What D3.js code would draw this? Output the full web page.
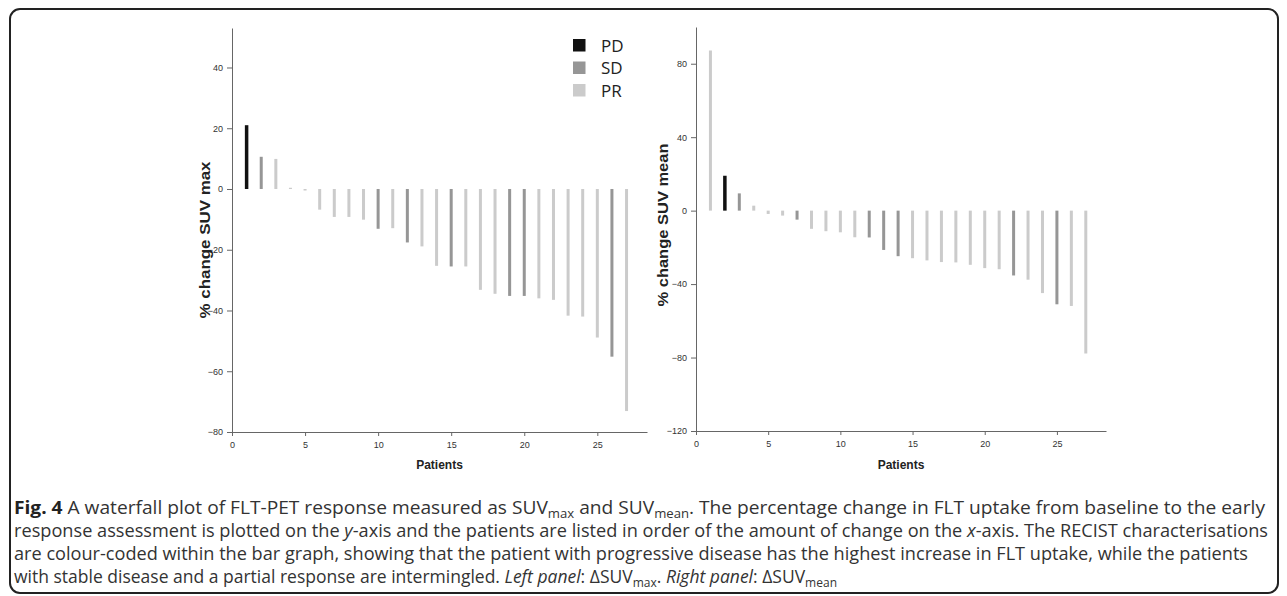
<!DOCTYPE html>
<html>
<head>
<meta charset="utf-8">
<script src="https://cdn.jsdelivr.net/npm/d3@7"></script>
<style>
  body { margin: 0; background: #fff; }
  .tick text { font-family: "Liberation Sans", Arial, sans-serif; font-size: 9px; fill: #333; }
  .axis path, .axis line { stroke: #666; }
</style>
</head>
<body>
<div id="chart"></div>
<script>
// patients are ranked 1..27 in each panel
const patients = d3.range(1, 28);

// left panel: % change SUV max
const suvMax = [21, 10.6, 9.9, 0.4, -0.5, -6.8, -9.2, -9.2, -10.1, -13.1, -12.9, -17.6, -18.9, -25.3,
  -25.5, -25.5, -33.2, -34.5, -35.2, -35.2, -36.0, -36.5, -41.7, -42.0, -48.9, -55.2, -73.1];
const suvMaxResp = ['PD', 'SD', 'PR', 'PR', 'PR', 'PR', 'PR', 'PR', 'PR', 'SD', 'PR', 'SD', 'PR', 'PR',
  'SD', 'PR', 'PR', 'PR', 'SD', 'SD', 'PR', 'PR', 'PR', 'PR', 'PR', 'SD', 'PR'];

// right panel: % change SUV mean
const suvMean = [87.2, 19.0, 9.4, 2.7, -1.8, -2.7, -4.9, -9.9, -11.2, -11.8, -14.5, -14.6, -21.4, -24.8,
  -25.9, -27.1, -28.0, -28.2, -29.5, -31.3, -31.9, -35.3, -37.6, -44.9, -51.0, -51.9, -77.8];
const suvMeanResp = ['PR', 'PD', 'SD', 'PR', 'PR', 'PR', 'SD', 'PR', 'PR', 'PR', 'PR', 'SD', 'SD', 'SD',
  'PR', 'PR', 'PR', 'PR', 'PR', 'PR', 'PR', 'SD', 'PR', 'PR', 'SD', 'PR', 'PR'];

const xTicks = [0, 5, 10, 15, 20, 25];
const yTicksMax = [-80, -60, -40, -20, 0, 20, 40];
const yTicksMean = [-120, -80, -40, 0, 40, 80];

const categories = ['PD', 'SD', 'PR'];
const color = d3.scaleOrdinal().domain(categories).range(['#111111', '#969696', '#cbcbcb']);

const svg = d3.select("#chart")
    .append("svg")
    .attr("width", 1287)
    .attr("height", 596);

// figure frame
svg.append("rect")
    .attr("x", 10).attr("y", 9)
    .attr("width", 1268).attr("height", 584)
    .attr("rx", 10)
    .attr("fill", "none")
    .attr("stroke", "#222")
    .attr("stroke-width", 2);

function panel(values, resp, x, y, yTicks, yLabel, labelPos, labelLen) {
    let g = svg.append("g");

    g.selectAll("rect.bar")
        .data(values)
        .enter()
        .append("rect")
        .attr("class", "bar")
        .attr("x", function (d, i) { return x(patients[i]) - (resp[i] == 'PD' ? 1.75 : 1.5); })
        .attr("width", function (d, i) { return resp[i] == 'PD' ? 3.5 : 3; })
        .attr("y", function (d) { return y(Math.max(0, d)); })
        .attr("height", function (d) { return Math.abs(y(d) - y(0)); })
        .attr("fill", function (d, i) { return color(resp[i]); });

    g.append("g")
        .attr("class", "axis")
        .attr("transform", `translate(0, ${y.range()[0]})`)
        .call(d3.axisBottom(x).tickValues(xTicks).tickSize(4).tickSizeOuter(0).tickPadding(6));

    g.append("g")
        .attr("class", "axis")
        .attr("transform", `translate(${x.range()[0]}, 0)`)
        .call(d3.axisLeft(y).tickValues(yTicks).tickSize(5).tickSizeOuter(0).tickPadding(4));

    g.append("text")
        .attr("transform", `translate(${(x.range()[0] + x.range()[1]) / 2}, 469)`)
        .style("text-anchor", "middle")
        .style("font-family", "Liberation Sans, Arial, sans-serif")
        .style("font-weight", "bold")
        .style("font-size", 12)
        .attr("fill", "#222")
        .text("Patients");

    g.append("text")
        .attr("transform", `translate(${labelPos[0]}, ${labelPos[1]}) rotate(-90)`)
        .attr("dy", "0.35em")
        .style("text-anchor", "middle")
        .style("font-family", "Liberation Sans, Arial, sans-serif")
        .style("font-weight", "bold")
        .style("font-size", 14)
        .attr("textLength", labelLen)
        .attr("lengthAdjust", "spacingAndGlyphs")
        .attr("fill", "#222")
        .text(yLabel);
}

const xL = d3.scaleLinear().domain([0, 28.4]).range([232, 647]);
const yL = d3.scaleLinear().domain([-80, 53]).range([432, 28]);
panel(suvMax, suvMaxResp, xL, yL, yTicksMax, "% change SUV max", [205, 240], 157);

const xR = d3.scaleLinear().domain([0, 28.4]).range([696, 1106]);
const yR = d3.scaleLinear().domain([-120, 100]).range([431, 27]);
panel(suvMean, suvMeanResp, xR, yR, yTicksMean, "% change SUV mean", [663, 225], 163);

// legend
let legend = svg.append("g").attr("transform", "translate(573, 39)");
legend.selectAll("rect")
    .data(categories)
    .enter()
    .append("rect")
    .attr("x", 0)
    .attr("y", function (d, i) { return i * 22.5; })
    .attr("width", 12.5)
    .attr("height", 12.5)
    .attr("fill", function (d) { return color(d); });
legend.selectAll("text")
    .data(categories)
    .enter()
    .append("text")
    .attr("x", 28)
    .attr("y", function (d, i) { return i * 22.5 + 6.5; })
    .attr("dy", "0.36em")
    .style("font-family", "Open Sans, sans-serif")
    .style("font-size", 17)
    .attr("fill", "#222")
    .text(function (d) { return d; });

// caption
const captionLines = [
    [["b", "Fig. 4"], ["", " A waterfall plot of FLT-PET response measured as SUV"], ["sub", "max"], ["", " and SUV"], ["sub", "mean"],
     ["", ". The percentage change in FLT uptake from baseline to the early"]],
    [["", "response assessment is plotted on the "], ["i", "y"], ["", "-axis and the patients are listed in order of the amount of change on the "],
     ["i", "x"], ["", "-axis. The RECIST characterisations"]],
    [["", "are colour-coded within the bar graph, showing that the patient with progressive disease has the highest increase in FLT uptake, while the patients"]],
    [["", "with stable disease and a partial response are intermingled. "], ["i", "Left panel"], ["", ": ΔSUV"], ["sub", "max"], ["", ". "],
     ["i", "Right panel"], ["", ": ΔSUV"], ["sub", "mean"]]
];
// last line keeps its natural width
const captionWidths = [1251, 1254, 1234, null];

captionLines.forEach(function (line, li) {
    let t = svg.append("text")
        .attr("x", 14)
        .attr("y", 513.5 + li * 23.2)
        .style("font-family", "Open Sans, sans-serif")
        .style("font-size", 17.5)
        .attr("fill", "#333");
    if (captionWidths[li]) {
        t.attr("textLength", captionWidths[li]).attr("lengthAdjust", "spacingAndGlyphs");
    }
    let afterSub = false;
    line.forEach(function (part) {
        let s = t.append("tspan").text(part[1]);
        if (part[0] == "b") s.style("font-weight", "bold").attr("fill", "#222");
        if (part[0] == "i") s.style("font-style", "italic");
        if (part[0] == "sub") {
            s.style("font-size", 12).attr("dy", 4);
            afterSub = true;
        } else if (afterSub) {
            s.attr("dy", -4);   // back to the baseline after a subscript
            afterSub = false;
        }
    });
});
</script>
</body>
</html>
